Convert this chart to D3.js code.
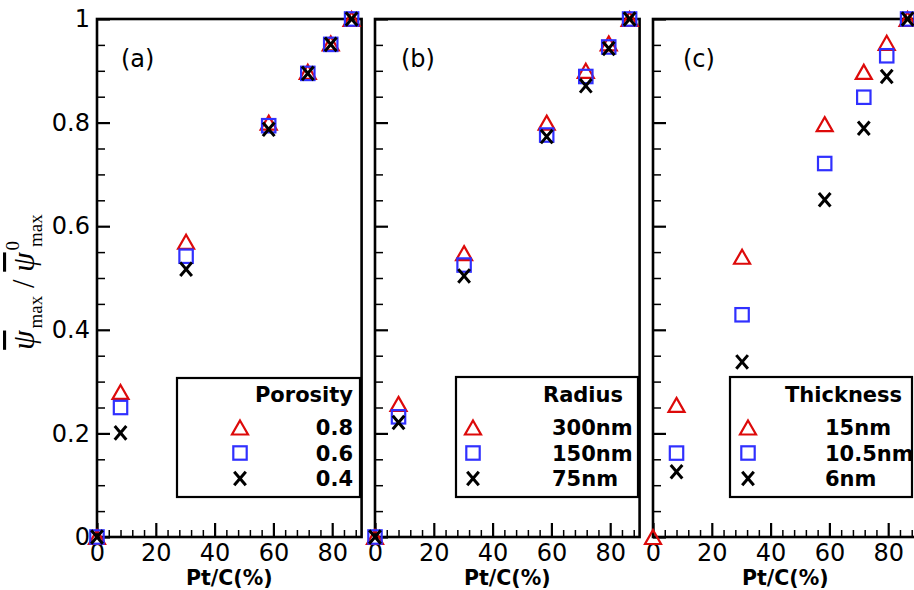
<!DOCTYPE html>
<html><head><meta charset="utf-8">
<script src="https://cdn.jsdelivr.net/npm/d3@7"></script>
<style>body{margin:0;background:#fff}</style>
</head><body><svg id="chart" width="914" height="590"></svg>
<script>
// ---- data ----
const ptC = [0, 8, 30.3, 58.4, 71.7, 79.5, 86.6];
const xTicks = [0, 20, 40, 60, 80];
const xMinorTicks = [4, 8, 12, 16, 24, 28, 32, 36, 44, 48, 52, 56, 64, 68, 72, 76, 84, 88];
const yTicks = [0, 0.2, 0.4, 0.6, 0.8, 1];
const yTickLabels = ["0", "0.2", "0.4", "0.6", "0.8", "1"];
const yMinorTicks = [0.05, 0.1, 0.15, 0.25, 0.3, 0.35, 0.45, 0.5, 0.55, 0.65, 0.7, 0.75, 0.85, 0.9, 0.95];

const porosityNames = ["0.8", "0.6", "0.4"];
const porosity08 = [0, 0.280, 0.570, 0.800, 0.898, 0.953, 1.0];
const porosity06 = [0, 0.250, 0.542, 0.794, 0.895, 0.951, 1.0];
const porosity04 = [0, 0.201, 0.517, 0.787, 0.895, 0.951, 1.0];

const radiusNames = ["300nm", "150nm", "75nm"];
const radius300 = [0, 0.257, 0.548, 0.800, 0.900, 0.953, 1.0];
const radius150 = [0, 0.232, 0.525, 0.776, 0.889, 0.946, 1.0];
const radius75  = [0, 0.221, 0.504, 0.773, 0.871, 0.943, 1.0];

const thicknessNames = ["15nm", "10.5nm", "6nm"];
const thick15  = [0, 0.255, 0.541, 0.797, 0.898, 0.954, 1.0];
const thick105 = [null, 0.162, 0.429, 0.721, 0.849, 0.929, 1.0];
const thick6   = [null, 0.126, 0.338, 0.651, 0.789, 0.889, 1.0];

// ---- layout ----
const svg = d3.select("#chart");
svg.append("rect").attr("width", 914).attr("height", 590).attr("fill", "#fff");
const TOP = 19, BOTTOM = 537, PW = 264.6;
const RED = "#dd0a0a", BLUE = "#3030ff";
const tickFont = "'DejaVu Sans', sans-serif";

const panels = [
  {label: "(a)", left: 97, labelDx: 24, title: "Porosity", names: porosityNames,
   series: [porosity08, porosity06, porosity04],
   lg: {x: 177, y: 378, w: 183, h: 119, titleX: 353, titleAnchor: "end", textX: 353, textAnchor: "end", markX: 240}},
  {label: "(b)", left: 375, labelDx: 26, title: "Radius", names: radiusNames,
   series: [radius300, radius150, radius75],
   lg: {x: 456, y: 377, w: 182, h: 120, titleX: 543, titleAnchor: "start", textX: 552, textAnchor: "start", markX: 473}},
  {label: "(c)", left: 653, labelDx: 30, title: "Thickness", names: thicknessNames,
   series: [thick15, thick105, thick6],
   lg: {x: 730, y: 377, w: 182, h: 120, titleX: 785, titleAnchor: "start", textX: 825, textAnchor: "start", markX: 748}}
];

function drawMarker(g, kind, cx, cy) {
  if (kind === 0) {
    g.append("path").attr("d", "M0,-7L8,7L-8,7Z")
      .attr("transform", `translate(${cx},${cy})`)
      .attr("fill", "none").attr("stroke", RED).attr("stroke-width", 2.2);
  } else if (kind === 1) {
    g.append("rect").attr("x", cx - 6.7).attr("y", cy - 6.7).attr("width", 13.4).attr("height", 13.4)
      .attr("fill", "none").attr("stroke", BLUE).attr("stroke-width", 2.2);
  } else {
    g.append("path").attr("d", "M-5.8,-6.8L5.8,6.8M5.8,-6.8L-5.8,6.8")
      .attr("transform", `translate(${cx},${cy})`)
      .attr("fill", "none").attr("stroke", "#000").attr("stroke-width", 3);
  }
}

const yScale = d3.scaleLinear().domain([0, 1]).range([BOTTOM, TOP]);

panels.forEach((p, pi) => {
  const x = d3.scaleLinear().domain([0, 90]).range([p.left, p.left + PW]);
  const g = svg.append("g");

  // minor ticks
  g.append("g").attr("transform", `translate(0,${BOTTOM})`)
    .call(d3.axisBottom(x).tickValues(xMinorTicks).tickSize(-7).tickFormat(""))
    .call(a => a.select(".domain").remove())
    .call(a => a.selectAll("line").attr("stroke-width", 1.5));
  g.append("g").attr("transform", `translate(${p.left},0)`)
    .call(d3.axisLeft(yScale).tickValues(yMinorTicks).tickSize(-8).tickFormat(""))
    .call(a => a.select(".domain").remove())
    .call(a => a.selectAll("line").attr("stroke-width", 1.5));

  // major ticks + labels
  g.append("g").attr("transform", `translate(0,${BOTTOM})`)
    .call(d3.axisBottom(x).tickValues(xTicks).tickSize(-14).tickPadding(7).tickFormat(d3.format("d")))
    .call(a => a.select(".domain").remove())
    .call(a => a.selectAll("line").attr("stroke-width", 2.2))
    .call(a => a.selectAll("text").attr("font-family", tickFont).attr("font-size", 24).attr("fill", "#000"));
  g.append("g").attr("transform", `translate(${p.left},0)`)
    .call(d3.axisLeft(yScale).tickValues(yTicks).tickSize(-13).tickPadding(7)
      .tickFormat((d, i) => pi === 0 ? yTickLabels[i] : ""))
    .call(a => a.select(".domain").remove())
    .call(a => a.selectAll("line").attr("stroke-width", 2.2))
    .call(a => a.selectAll("text").attr("font-family", tickFont).attr("font-size", 24).attr("fill", "#000"));

  // frame
  g.append("rect").attr("x", p.left).attr("y", TOP).attr("width", PW).attr("height", BOTTOM - TOP)
    .attr("fill", "none").attr("stroke", "#000").attr("stroke-width", 2.6);

  // x-axis title
  g.append("text").attr("x", p.left + PW / 2).attr("y", 585).attr("text-anchor", "middle")
    .attr("font-family", tickFont).attr("font-weight", "bold").attr("font-size", 20.5).text("Pt/C(%)");

  // panel label
  g.append("text").attr("x", p.left + p.labelDx).attr("y", 67)
    .attr("font-family", tickFont).attr("font-size", 24).text(p.label);

  // legend
  const L = p.lg;
  g.append("rect").attr("x", L.x).attr("y", L.y).attr("width", L.w).attr("height", L.h)
    .attr("fill", "#fff").attr("stroke", "#000").attr("stroke-width", 2.2);
  g.append("text").attr("x", L.titleX).attr("y", 402).attr("text-anchor", L.titleAnchor)
    .attr("font-family", tickFont).attr("font-weight", "bold").attr("font-size", 21).text(p.title);
  const rowBase = [435, 460.5, 486];
  p.names.forEach((n, i) => {
    g.append("text").attr("x", L.textX).attr("y", rowBase[i]).attr("text-anchor", L.textAnchor)
      .attr("font-family", tickFont).attr("font-weight", "bold").attr("font-size", 21).text(n);
    drawMarker(g, i, L.markX, rowBase[i] - 7.5);
  });

  // data markers
  const mg = svg.append("g");
  p.series.forEach((s, k) => {
    s.forEach((v, j) => {
      if (v === null) return;
      drawMarker(mg, k, x(ptC[j]), yScale(v));
    });
  });
});

// y-axis title (rotated)
const yt = svg.append("text")
  .attr("transform", "translate(34,282) rotate(-90)")
  .attr("text-anchor", "middle")
  .attr("font-family", "'Liberation Serif', 'Times New Roman', serif")
  .attr("font-size", 31);
yt.append("tspan").attr("font-style", "italic").style("text-decoration", "overline").text("ψ");
yt.append("tspan").attr("font-size", 19).attr("dy", 8).attr("dx", 2).text("max");
yt.append("tspan").attr("dy", -8).text(" / ");
yt.append("tspan").attr("font-style", "italic").style("text-decoration", "overline").text("ψ");
yt.append("tspan").attr("font-size", 19).attr("dy", -15).attr("dx", 2).text("0");
yt.append("tspan").attr("font-size", 19).attr("dx", -6).attr("dy", 23).text("max");
</script>
</body></html>
